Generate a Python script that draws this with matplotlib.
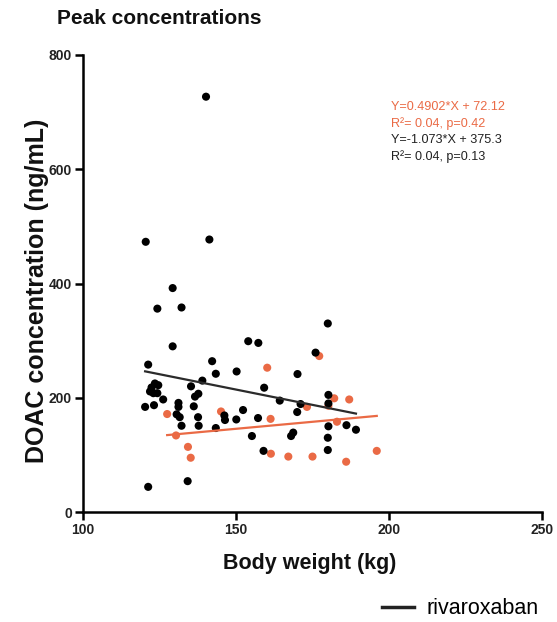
import matplotlib
matplotlib.use("Agg")
import matplotlib.pyplot as plt
from matplotlib.lines import Line2D
import numpy as np

plt.rcParams['font.family'] = ['Liberation Sans', 'DejaVu Sans']

# Black series (rivaroxaban)
black_x = [140.2, 120.5, 141.3, 129.3, 124.3, 132.2, 129.3, 154.0, 157.3, 180.0,
           176.0, 121.3, 142.2, 143.4, 150.2, 170.1, 139.0, 159.2, 123.5, 124.6,
           122.4, 121.9, 123.0, 124.3, 135.3, 137.7, 136.6, 126.2, 120.3, 123.2,
           131.2, 131.2, 136.2, 164.3, 171.1, 180.2, 180.2, 152.3, 130.6, 131.6,
           137.6, 146.2, 146.4, 150.1, 157.2, 170.0, 132.2, 137.8, 143.4, 180.2,
           186.1, 189.2, 155.2, 168.7, 168.0, 180.0, 159.0, 180.0, 134.2, 121.3]
black_y = [727, 473, 477, 392, 356, 358, 290, 299, 296, 330,
           279, 258, 264, 242, 246, 241.5, 230, 217.6, 225, 222,
           218, 211, 208, 208, 220, 207, 202, 197, 184, 187,
           191, 184, 185, 195, 189, 205, 190, 178.5, 171, 166,
           166, 169, 161, 162, 164.5, 175, 151, 151, 147, 150,
           152, 144, 133, 139, 133, 130, 107, 108.5, 54, 44]

# Orange series
orange_x = [127.5, 145.1, 130.4, 134.3, 135.2, 177.2, 160.2, 182.1, 187.0,
            173.2, 180.2, 161.3, 183.0, 161.4, 167.1, 175.0, 186.0, 196.0]
orange_y = [171.5, 176, 134, 114, 95, 273, 252.6, 199, 197,
            184, 186, 163, 158, 102, 97, 97, 88, 107]

# Regression coefficients (slope, intercept)
orange_fit = (0.4902, 72.12)
black_fit = (-1.073, 375.3)

ann_lines = ["Y=0.4902*X + 72.12", "R\u00b2= 0.04, p=0.42",
             "Y=-1.073*X + 375.3", "R\u00b2= 0.04, p=0.13"]

x_ticks = [100, 150, 200, 250]
y_ticks = [0, 200, 400, 600, 800]

ORANGE = '#EA6A45'
BLACK = '#000000'

W, H = 557, 622
fig = plt.figure(figsize=(W/100, H/100), dpi=100)
ax = fig.add_axes([83/W, 1-512/H, (542-83)/W, (512-55)/H])

ax.scatter(orange_x, orange_y, s=34, color=ORANGE, edgecolors='none', zorder=3, clip_on=False)
ax.scatter(black_x, black_y, s=34, color=BLACK, edgecolors='none', zorder=4, clip_on=False)

ox = np.array([min(orange_x), max(orange_x)])
ax.plot(ox, orange_fit[0]*ox + orange_fit[1], color=ORANGE, lw=1.6, zorder=5)
bx = np.array([min(black_x), max(black_x)])
ax.plot(bx, black_fit[0]*bx + black_fit[1], color='#2b2b2b', lw=1.6, zorder=5)

ax.set_xlim(100, 250)
ax.set_ylim(0, 800)
ax.set_xticks(x_ticks)
ax.set_yticks(y_ticks)
ax.set_xticklabels([str(t) for t in x_ticks], fontsize=10, fontweight='bold', color='#222222')
ax.set_yticklabels([str(t) for t in y_ticks], fontsize=10, fontweight='bold', color='#222222')
for s in ['top', 'right']:
    ax.spines[s].set_visible(False)
for s in ['left', 'bottom']:
    ax.spines[s].set_linewidth(1.8)
ax.tick_params(axis='both', direction='out', length=6, width=1.8, pad=2)

fig.text(310/W, 1-563/H, "Body weight (kg)", fontsize=15.5, fontweight='bold',
         ha='center', va='center', color='#111111')
fig.text(37/W, 1-291/H, "DOAC concentration (ng/mL)", fontsize=18, fontweight='bold',
         ha='center', va='center', rotation=90, color='#111111')

fig.text(57/W, 1-18/H, "Peak concentrations", fontsize=15, fontweight='bold',
         ha='left', va='center', color='#111111')

ann_y = [107, 124, 140, 157]
ann_c = [ORANGE, ORANGE, '#222222', '#222222']
for t, yy, c in zip(ann_lines, ann_y, ann_c):
    fig.text(391/W, 1-yy/H, t, fontsize=9.1, color=c, ha='left', va='center')

handle = Line2D([0], [0], color='#222222', lw=2.5)
fig.legend([handle], ["rivaroxaban"], loc='center left',
           bbox_to_anchor=(382/W, 1-609/H), frameon=False, fontsize=15.5,
           handlelength=1.5, handletextpad=0.55, borderaxespad=0, borderpad=0)

fig.savefig("out.png", dpi=100)
